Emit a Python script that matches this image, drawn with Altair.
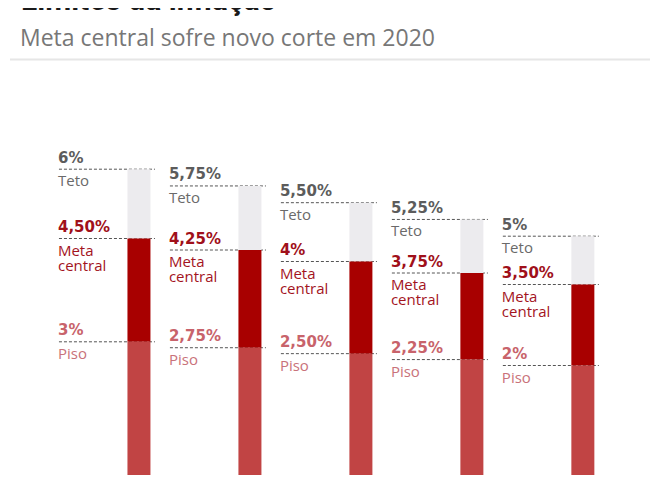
import altair as alt
import pandas as pd

title = "Limites da inflação"
subtitle = "Meta central sofre novo corte em 2020"

teto = [6, 5.75, 5.5, 5.25, 5]
meta = [4.5, 4.25, 4, 3.75, 3.5]
piso = [3, 2.75, 2.5, 2.25, 2]
levels = ["teto", "meta", "piso"]
level_names = ["Teto", "Meta\ncentral", "Piso"]


def fmt(v):
    if float(v).is_integer():
        return f"{int(v)}%"
    return f"{v:.2f}".replace(".", ",") + "%"


rows = []
for i in range(len(teto)):
    vals = {"teto": teto[i], "meta": meta[i], "piso": piso[i]}
    lows = {"teto": meta[i], "meta": piso[i], "piso": 0}
    for lv, nm in zip(levels, level_names):
        rows.append(dict(i=i, level=lv, value=vals[lv], low=lows[lv],
                         label=fmt(vals[lv]), name=nm))
df = pd.DataFrame(rows)

x = alt.X("i:Q", scale=alt.Scale(domain=[-1.135, 4.56], nice=False, zero=False), axis=None)
y = alt.Y("value:Q",
          scale=alt.Scale(domain=[0, 2, 3, 3.5, 4.5, 5, 6],
                          range=[467, 357.5, 333.8, 276.5, 230.5, 228.2, 161.2],
                          nice=False, zero=False),
          axis=None)

base = alt.Chart(df)

rules = base.mark_rule(xOffset=-80, x2Offset=16, strokeDash=[3, 2], color="#555555",
                       strokeWidth=1).encode(x=x, x2="i:Q", y=y)

bars = base.mark_bar(size=23).encode(
    x=x, y=y, y2="low:Q",
    color=alt.Color("level:N", scale=alt.Scale(domain=levels,
                                               range=["#ecebee", "#a80000", "#c14444"]),
                    legend=None))

val_text = base.mark_text(align="left", baseline="alphabetic", dx=-81, dy=-6.5,
                          font="DejaVu Sans", fontWeight="bold", fontSize=15).encode(
    x=x, y=y, text="label:N",
    color=alt.Color("level:N", scale=alt.Scale(domain=levels,
                                               range=["#5c5c5c", "#a0101a", "#c8636b"]),
                    legend=None))

name_text = base.mark_text(align="left", baseline="alphabetic", dx=-81, dy=17,
                           font="Open Sans", fontSize=15, lineBreak="\n",
                           lineHeight=15).encode(
    x=x, y=y, text="name:N",
    color=alt.Color("level:N", scale=alt.Scale(domain=levels,
                                               range=["#6a6a6a", "#a3141e", "#c9727a"]),
                    legend=None))

hdr = pd.DataFrame({"title": [title], "subtitle": [subtitle]})
title_mark = alt.Chart(hdr).mark_text(align="left", baseline="alphabetic", font="Roboto",
                                      fontWeight="bold", fontSize=30,
                                      color="#1a1a1a").encode(
    text="title:N", x=alt.value(13), y=alt.value(2))
subtitle_mark = alt.Chart(hdr).mark_text(align="left", baseline="alphabetic",
                                         font="Open Sans", fontSize=23,
                                         color="#777777").encode(
    text="subtitle:N", x=alt.value(12), y=alt.value(38))
sep = alt.Chart(hdr).mark_rule(color="#e6e6e6", strokeWidth=2).encode(
    x=alt.value(2), x2=alt.value(642), y=alt.value(51.5))

chart = alt.layer(rules, bars, val_text, name_text, title_mark, subtitle_mark, sep).resolve_scale(
    color="independent"
).properties(
    width=642, height=467, padding=0, autosize=alt.AutoSizeParams(type="none")
).configure_view(stroke=None)

chart.save("out.html", embed_options={"renderer": "svg", "actions": False})
